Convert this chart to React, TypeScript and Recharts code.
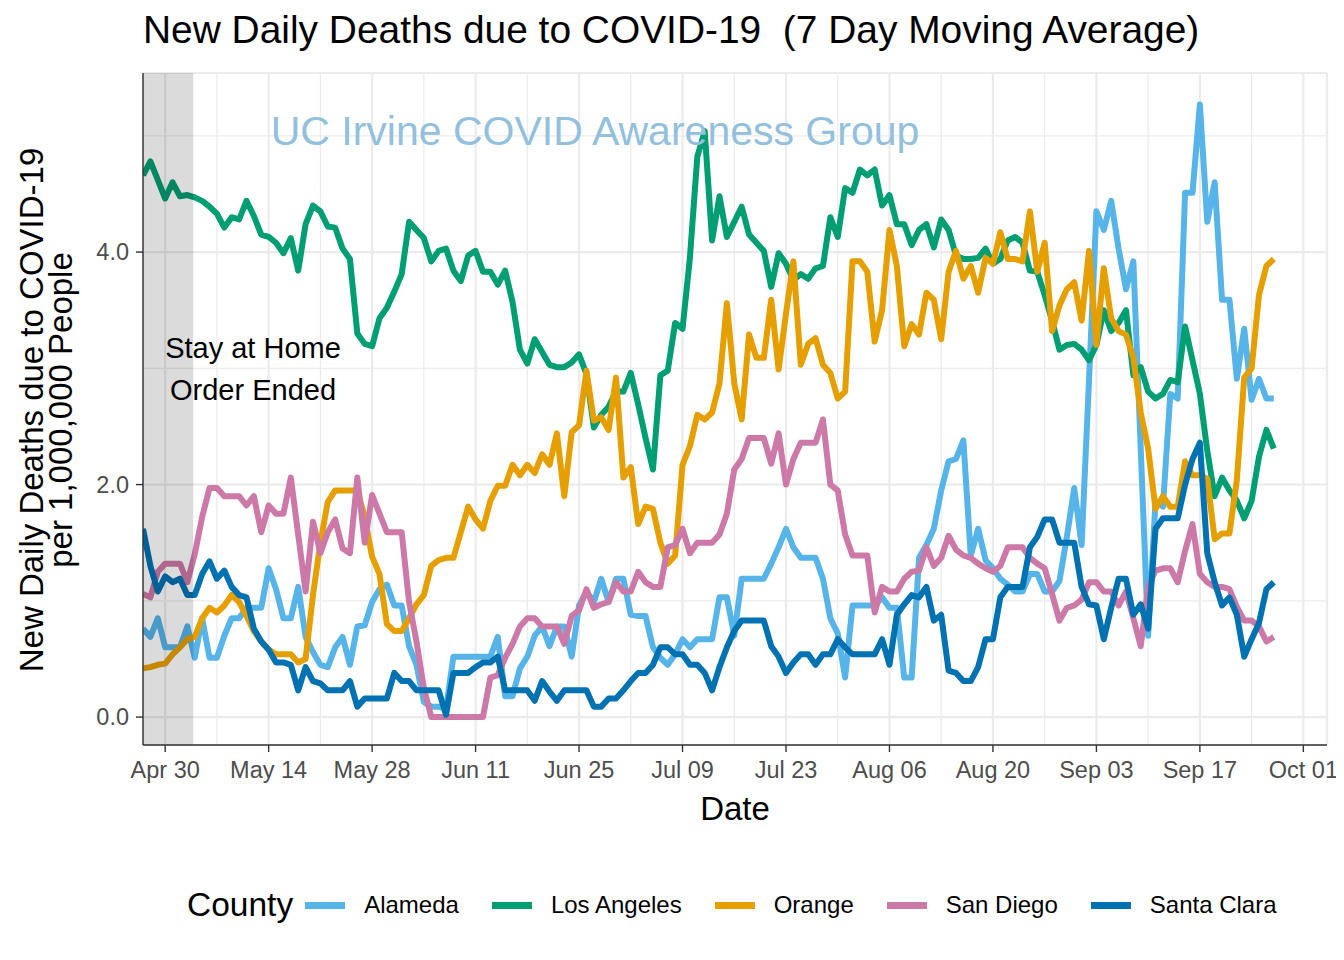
import {
  CartesianGrid,
  Line,
  LineChart,
  ReferenceArea,
  ReferenceLine,
  XAxis,
  YAxis,
} from "recharts";

// days counted from Apr 30; the series start on Apr 27
const firstDay = -3;

const alameda = [
  0.76, 0.69, 0.85, 0.6, 0.6, 0.6, 0.78, 0.51, 0.85, 0.51, 0.51, 0.7, 0.85, 0.85, 0.94, 0.94, 0.94, 1.28, 1.1, 0.85, 0.85, 1.12, 0.69, 0.56, 0.45, 0.43, 0.6,
  0.69, 0.45, 0.78, 0.79, 0.99, 1.1, 1.14, 0.96, 0.96, 0.61, 0.45, 0.13, 0.09, 0.09, 0.07, 0.52, 0.52, 0.52, 0.52, 0.52, 0.52, 0.69, 0.18, 0.18, 0.42, 0.52,
  0.7, 0.78, 0.61, 0.78, 0.78, 0.52, 0.96, 1.08, 0.99, 1.19, 0.99, 1.19, 1.19, 0.88, 0.87, 0.87, 0.6, 0.51, 0.45, 0.54, 0.67, 0.6, 0.67, 0.67, 0.67, 1.03,
  1.03, 0.7, 1.19, 1.19, 1.19, 1.19, 1.32, 1.46, 1.62, 1.46, 1.37, 1.37, 1.37, 1.19, 0.85, 0.72, 0.34, 0.96, 0.96, 0.96, 0.96, 1.03, 0.94, 0.94, 0.34, 0.34,
  1.37, 1.48, 1.62, 1.95, 2.2, 2.22, 2.38, 1.39, 1.62, 1.35, 1.28, 1.19, 1.14, 1.08, 1.08, 1.23, 1.23, 1.08, 1.08, 1.17, 1.55, 1.97, 1.48, 2.9, 4.35,
  4.19, 4.44, 4.03, 3.68, 3.92, 2.3, 0.7, 1.86, 1.81, 2.78, 2.74, 4.51, 4.51, 5.27, 4.26, 4.6, 3.59, 3.59, 2.91, 3.34, 2.73, 2.91, 2.74, 2.74,
];

const losAngeles = [
  4.66, 4.78, 4.62, 4.46, 4.6, 4.48, 4.49, 4.47, 4.44, 4.39, 4.33, 4.21, 4.3, 4.28, 4.44, 4.31, 4.15, 4.13, 4.08, 3.99, 4.12, 3.84, 4.24, 4.4, 4.35, 4.22, 4.21,
  4.03, 3.94, 3.3, 3.21, 3.19, 3.43, 3.52, 3.66, 3.81, 4.26, 4.19, 4.12, 3.92, 4.01, 4.03, 3.84, 3.75, 3.97, 4.01, 3.83, 3.83, 3.72, 3.84, 3.57, 3.16, 3.04,
  3.25, 3.14, 3.03, 3.01, 3.01, 3.05, 3.12, 2.95, 2.49, 2.6, 2.67, 2.8, 2.8, 2.96, 2.69, 2.4, 2.13, 2.94, 2.98, 3.39, 3.34, 3.95, 4.82, 5.04, 4.1, 4.48,
  4.13, 4.26, 4.39, 4.15, 4.08, 4.01, 3.7, 3.99, 3.9, 3.76, 3.81, 3.77, 3.86, 3.88, 4.3, 4.13, 4.55, 4.51, 4.71, 4.66, 4.71, 4.4, 4.49, 4.24, 4.24, 4.06,
  4.19, 4.24, 4.04, 4.28, 4.19, 3.97, 3.94, 3.94, 3.95, 4.03, 3.9, 3.94, 4.1, 4.13, 4.08, 3.84, 3.83, 3.63, 3.41, 3.16, 3.2, 3.21, 3.16, 3.07, 3.2,
  3.5, 3.32, 3.39, 3.5, 2.94, 3.01, 2.8, 2.74, 2.78, 2.9, 2.88, 3.36, 3.07, 2.78, 2.29, 1.9, 2.06, 1.95, 1.86, 1.71, 1.86, 2.24, 2.47, 2.31,
];

const orange = [
  0.42, 0.43, 0.45, 0.46, 0.54, 0.6, 0.67, 0.69, 0.85, 0.94, 0.9, 0.96, 1.05, 0.99, 0.87, 0.74, 0.65, 0.58, 0.54, 0.54, 0.54, 0.47, 0.5, 1.05, 1.5, 1.85, 1.95,
  1.95, 1.95, 1.95, 1.72, 1.38, 1.23, 0.8, 0.74, 0.74, 0.85, 0.97, 1.05, 1.3, 1.35, 1.37, 1.37, 1.59, 1.81, 1.7, 1.62, 1.86, 1.99, 1.99, 2.17, 2.08, 2.17,
  2.1, 2.26, 2.17, 2.44, 1.9, 2.45, 2.51, 2.98, 2.55, 2.58, 2.47, 2.92, 2.06, 2.15, 1.66, 1.81, 1.79, 1.5, 1.32, 1.39, 2.17, 2.33, 2.6, 2.56, 2.62, 2.87,
  3.56, 2.87, 2.56, 3.29, 3.09, 3.09, 3.59, 2.99, 3.47, 3.92, 3.03, 3.21, 3.26, 3.03, 2.96, 2.74, 2.8, 3.92, 3.92, 3.83, 3.23, 3.5, 4.19, 3.88, 3.19, 3.38,
  3.29, 3.65, 3.59, 3.25, 3.83, 4.01, 3.77, 3.88, 3.65, 3.95, 3.9, 4.17, 3.94, 3.94, 3.92, 4.35, 3.83, 4.08, 3.32, 3.54, 3.68, 3.74, 3.41, 4.01, 3.2,
  3.86, 3.43, 3.32, 3.29, 3.09, 2.62, 2.31, 1.79, 1.9, 1.81, 1.81, 2.2, 2.08, 2.08, 2.05, 1.53, 1.58, 1.58, 2.04, 2.92, 3.0, 3.63, 3.88, 3.94,
];

const sanDiego = [
  1.06, 1.03, 1.25, 1.32, 1.32, 1.32, 1.16, 1.4, 1.72, 1.97, 1.97, 1.9, 1.9, 1.9, 1.82, 1.9, 1.59, 1.82, 1.75, 1.75, 2.06, 1.57, 1.08, 1.68, 1.41, 1.59, 1.7,
  1.45, 1.41, 2.06, 1.5, 1.91, 1.75, 1.59, 1.59, 1.59, 0.99, 0.65, 0.25, 0, 0, 0, 0, 0, 0, 0, 0, 0.34, 0.36, 0.51, 0.63, 0.78, 0.85,
  0.85, 0.78, 0.78, 0.78, 0.63, 0.87, 0.92, 1.1, 0.94, 0.97, 0.99, 1.16, 1.08, 1.08, 1.25, 1.16, 1.12, 1.12, 1.46, 1.48, 1.62, 1.41, 1.5, 1.5, 1.5, 1.57,
  1.75, 2.13, 2.22, 2.4, 2.4, 2.4, 2.18, 2.44, 2.0, 2.22, 2.36, 2.36, 2.36, 2.56, 2.0, 1.95, 1.57, 1.39, 1.39, 1.39, 0.9, 1.12, 1.08, 1.08, 1.19, 1.25,
  1.26, 1.46, 1.3, 1.37, 1.56, 1.44, 1.39, 1.37, 1.32, 1.28, 1.25, 1.3, 1.46, 1.46, 1.46, 1.37, 1.32, 1.28, 1.06, 0.83, 0.94, 0.96, 1.01, 1.16, 1.16,
  1.08, 1.08, 0.96, 1.08, 0.85, 0.61, 1.12, 1.26, 1.28, 1.28, 1.16, 1.43, 1.66, 1.23, 1.16, 1.12, 1.12, 1.1, 0.95, 0.83, 0.83, 0.78, 0.65, 0.69,
];

const santaClara = [
  1.62, 1.3, 1.08, 1.21, 1.16, 1.19, 1.05, 1.05, 1.23, 1.34, 1.19, 1.26, 1.12, 1.05, 1.03, 0.76, 0.65, 0.58, 0.47, 0.47, 0.45, 0.23, 0.43, 0.31, 0.29, 0.23, 0.23,
  0.23, 0.31, 0.09, 0.16, 0.16, 0.16, 0.16, 0.38, 0.31, 0.31, 0.23, 0.23, 0.23, 0.23, 0.02, 0.38, 0.38, 0.38, 0.43, 0.47, 0.47, 0.52, 0.23, 0.23, 0.23, 0.23,
  0.14, 0.31, 0.22, 0.14, 0.23, 0.23, 0.23, 0.23, 0.09, 0.09, 0.16, 0.16, 0.23, 0.31, 0.38, 0.38, 0.45, 0.6, 0.6, 0.54, 0.54, 0.45, 0.45, 0.38, 0.23, 0.43,
  0.6, 0.74, 0.83, 0.83, 0.83, 0.83, 0.61, 0.52, 0.38, 0.47, 0.54, 0.54, 0.45, 0.54, 0.54, 0.67, 0.6, 0.54, 0.54, 0.54, 0.54, 0.67, 0.45, 0.88, 0.97, 1.05,
  1.03, 1.12, 0.83, 0.88, 0.4, 0.38, 0.31, 0.31, 0.43, 0.67, 0.67, 1.03, 1.12, 1.12, 1.12, 1.46, 1.55, 1.7, 1.7, 1.5, 1.5, 1.5, 1.12, 0.97, 0.96,
  0.67, 0.94, 1.19, 1.19, 0.88, 0.97, 0.76, 1.62, 1.71, 1.71, 1.71, 2.0, 2.22, 2.36, 1.41, 1.16, 0.96, 1.03, 0.88, 0.52, 0.67, 0.81, 1.1, 1.16,
];

const tickDays = [0, 14, 28, 42, 56, 70, 84, 98, 112, 126, 140, 154];
const tickLabels = [
  "Apr 30", "May 14", "May 28", "Jun 11", "Jun 25", "Jul 09",
  "Jul 23", "Aug 06", "Aug 20", "Sep 03", "Sep 17", "Oct 01",
];
const minorDays = [7, 21, 35, 49, 63, 77, 91, 105, 119, 133, 147];
const valueTicks = [0, 2, 4];
const minorValues = [1, 3, 5];

// shaded: stay at home order period, up to about May 4
const orderEndDay = 3.8;

const series = [
  { key: "alameda", name: "Alameda", color: "#56B4E9", values: alameda },
  { key: "losAngeles", name: "Los Angeles", color: "#009E73", values: losAngeles },
  { key: "orange", name: "Orange", color: "#E69F00", values: orange },
  { key: "sanDiego", name: "San Diego", color: "#CC79A7", values: sanDiego },
  { key: "santaClara", name: "Santa Clara", color: "#0072B2", values: santaClara },
];

const chartData = alameda.map((_, i) => {
  const row: Record<string, number> = { day: firstDay + i };
  series.forEach((s) => {
    row[s.key] = s.values[i];
  });
  return row;
});

const W = 1336;
const H = 952;
const FONT = '"Liberation Sans", Arial, Helvetica, sans-serif';
const GRID = "#ebebeb";
const INK = "#333333";
const X_DOMAIN = [-3, 157.2];
const Y_DOMAIN = [-0.24, 5.54];

function formatDay(v: number): string {
  const i = tickDays.indexOf(v);
  return i >= 0 ? tickLabels[i] : "";
}

export default function App() {
  return (
    <div style={{ position: "relative", width: W, height: H, fontFamily: FONT }}>
      <LineChart
        width={W}
        height={H}
        data={chartData}
        margin={{ top: 65, right: 17, bottom: 165, left: 0 }}
      >
        <CartesianGrid stroke={GRID} strokeWidth={2.2} />
        {minorDays.map((d) => (
          <ReferenceLine key={"mx" + d} x={d} stroke={GRID} strokeWidth={1.2} zIndex={-100} />
        ))}
        {minorValues.map((v) => (
          <ReferenceLine key={"my" + v} y={v} stroke={GRID} strokeWidth={1.2} zIndex={-100} />
        ))}
        <XAxis
          dataKey="day"
          type="number"
          domain={X_DOMAIN}
          ticks={tickDays}
          tickFormatter={formatDay}
          allowDataOverflow
          height={50}
          tickSize={7}
          tickMargin={9}
          tick={{ fill: "#4d4d4d", fontSize: 23.5, fontFamily: FONT }}
          tickLine={{ stroke: INK, strokeWidth: 1.4 }}
          axisLine={{ stroke: INK, strokeWidth: 1.4 }}
        />
        <XAxis
          xAxisId="top"
          orientation="top"
          type="number"
          domain={X_DOMAIN}
          ticks={[]}
          tick={false}
          tickLine={false}
          height={0}
          axisLine={{ stroke: INK, strokeWidth: 1.4 }}
        />
        <YAxis
          type="number"
          domain={Y_DOMAIN}
          ticks={valueTicks}
          tickFormatter={(v: number) => v.toFixed(1)}
          allowDataOverflow
          width={135}
          tickSize={7}
          tickMargin={7}
          tick={{ fill: "#4d4d4d", fontSize: 23.5, fontFamily: FONT }}
          tickLine={{ stroke: INK, strokeWidth: 1.4 }}
          axisLine={{ stroke: INK, strokeWidth: 1.4 }}
        />
        <YAxis
          yAxisId="right"
          orientation="right"
          type="number"
          domain={Y_DOMAIN}
          ticks={[]}
          tick={false}
          tickLine={false}
          width={0}
          axisLine={{ stroke: INK, strokeWidth: 1.4 }}
        />
        {series.map((s) => (
          <Line
            key={s.key}
            type="linear"
            dataKey={s.key}
            name={s.name}
            stroke={s.color}
            strokeWidth={6}
            strokeLinejoin="round"
            dot={false}
            activeDot={false}
            isAnimationActive={false}
          />
        ))}
        <ReferenceArea
          x1={firstDay}
          x2={orderEndDay}
          fill="#000000"
          fillOpacity={0.14}
          stroke="none"
          ifOverflow="hidden"
          zIndex={450}
        />
      </LineChart>

      <svg
        width={W}
        height={H}
        style={{ position: "absolute", left: 0, top: 0, pointerEvents: "none" }}
        fontFamily={FONT}
      >
        <text x={135} y={35} fontSize={38.9} fill="#000">
          New Daily Deaths due to COVID-19{"\u00a0\u00a0"}(7 Day Moving Average)
        </text>
        <text x={587} y={137} fontSize={41} fill="#92c0dd" textAnchor="middle">
          UC Irvine COVID Awareness Group
        </text>
        <text x={245} y={350} fontSize={29} fill="#000" textAnchor="middle">
          Stay at Home
        </text>
        <text x={245} y={392} fontSize={29} fill="#000" textAnchor="middle">
          Order Ended
        </text>
        <text transform="translate(35,402) rotate(-90)" fontSize={33} fill="#000" textAnchor="middle">
          New Daily Deaths due to COVID-19
        </text>
        <text transform="translate(64,402) rotate(-90)" fontSize={33} fill="#000" textAnchor="middle">
          per 1,000,000 People
        </text>
        <text x={727} y={812} fontSize={33} fill="#000" textAnchor="middle">
          Date
        </text>
      </svg>

      <div
        style={{
          position: "absolute",
          left: 179,
          top: 877,
          height: 40,
          display: "flex",
          alignItems: "center",
          fontFamily: FONT,
          color: "#000",
        }}
      >
        <span style={{ fontSize: 33.5, marginRight: 12 }}>County</span>
        {series.map((s, i) => (
          <div
            key={s.key}
            style={{ display: "flex", alignItems: "center", marginLeft: i === 0 ? 0 : 33 }}
          >
            <span style={{ width: 40, height: 7, background: s.color, display: "inline-block" }} />
            <span style={{ fontSize: 24, marginLeft: 19 }}>{s.name}</span>
          </div>
        ))}
      </div>
    </div>
  );
}
